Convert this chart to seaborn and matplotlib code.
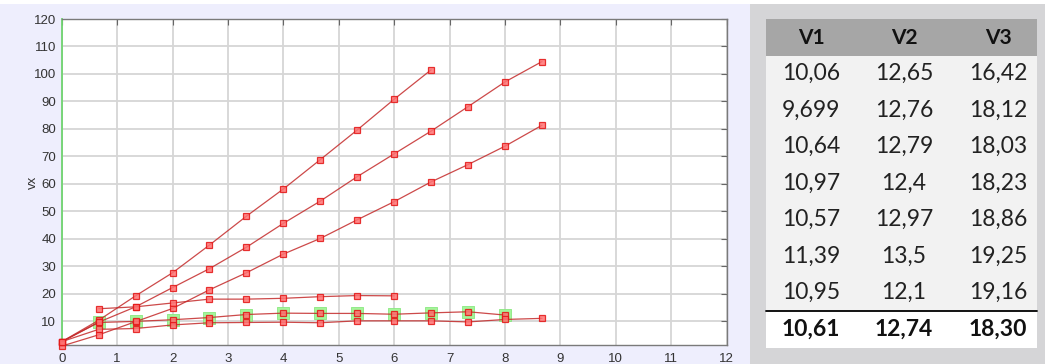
import matplotlib
matplotlib.use("Agg")
import matplotlib.pyplot as plt
from matplotlib.patches import Rectangle
import numpy as np
import pandas as pd
import seaborn as sns

# time axis (steps of 2/3)
t = [0, 2/3, 4/3, 2, 8/3, 10/3, 4, 14/3, 16/3, 6, 20/3, 22/3, 8, 26/3]

# velocity traces
vx_a = [2.5, 10.3, 19.2, 27.6, 37.7, 48.2, 58.1, 68.8, 79.6, 90.8, 101.5]
vx_b = [2.5, 9.6, 15.2, 22.2, 29.1, 36.9, 45.6, 53.7, 62.6, 70.9, 79.2, 88.1, 97.1, 104.5]
vx_c = [0.9, 5.0, 9.8, 14.6, 21.4, 27.6, 34.4, 40.1, 46.9, 53.5, 60.7, 67.0, 73.7, 81.3]
vx_d = [14.5, 15.2, 16.6, 18.0, 18.0, 18.3, 18.9, 19.3, 19.2]          # starts at t = 2/3
vx_e = [2.5, 9.5, 9.9, 10.5, 11.3, 12.4, 12.9, 12.8, 12.8, 12.5, 13.0, 13.4, 12.2]
vx_f = [2.5, 7.0, 7.3, 8.6, 9.4, 9.5, 9.6, 9.4, 10.1, 10.1, 10.1, 9.7, 10.6, 11.0]

# table values
col_names = ["V1", "V2", "V3"]
v1 = [10.06, 9.699, 10.64, 10.97, 10.57, 11.39, 10.95]
v2 = [12.65, 12.76, 12.79, 12.4, 12.97, 13.5, 12.1]
v3 = [16.42, 18.12, 18.03, 18.23, 18.86, 19.25, 19.16]

x_ticks = list(range(0, 13))
y_ticks = list(range(10, 121, 10))

series = {
    "a": (t[:len(vx_a)], vx_a),
    "b": (t[:len(vx_b)], vx_b),
    "c": (t[:len(vx_c)], vx_c),
    "d": (t[1:1 + len(vx_d)], vx_d),
    "e": (t[:len(vx_e)], vx_e),
    "f": (t[:len(vx_f)], vx_f),
}
frames = [pd.DataFrame({"t": xs, "vx": ys, "run": k}) for k, (xs, ys) in series.items()]
df = pd.concat(frames, ignore_index=True)

sns.set_style("white")
plt.rcParams["font.family"] = ["Liberation Sans", "DejaVu Sans"]

W, H = 1045, 364
fig = plt.figure(figsize=(W / 100, H / 100), dpi=100)
fig.patch.set_facecolor("white")

# background panels
fig.add_artist(Rectangle((0, 0), 750 / W, 360 / H, transform=fig.transFigure,
                         facecolor="#eeeefd", edgecolor="none", zorder=0))
fig.add_artist(Rectangle((750 / W, 0), 295 / W, 360 / H, transform=fig.transFigure,
                         facecolor="#d5d5d7", edgecolor="none", zorder=0))

ax = fig.add_axes([61.7 / W, (H - 345) / H, 665 / W, 326 / H])
ax.set_facecolor("white")

# highlighted samples
hl = df[(df["run"] == "e") & (df["t"] > 0)]
sns.scatterplot(data=hl, x="t", y="vx", ax=ax, marker="s", s=70, color="#a4f59a",
                edgecolor="#8ae880", linewidth=0.6, zorder=2, legend=False, clip_on=False)

sns.lineplot(data=df, x="t", y="vx", units="run", estimator=None, sort=False, ax=ax,
             color="#c42a2a", linewidth=0.9, alpha=0.85, legend=False, zorder=3,
             marker="s", markersize=4.5, markerfacecolor="#ff7373",
             markeredgecolor="#e31414", markeredgewidth=0.9)
for ln in ax.lines:
    ln.set_clip_on(False)

ax.set_xlim(0, 12)
ax.set_ylim(1.3, 120)
ax.set_xticks(x_ticks)
ax.set_yticks(y_ticks)
ax.grid(True, color="#d6d6d6", linewidth=1.3)
ax.set_axisbelow(True)
ax.tick_params(direction="in", length=4, width=0.8, color="#666666",
               top=True, right=True, labelsize=9.5, labelcolor="#333333", pad=4)
ax.tick_params(axis="x", pad=6)
for side in ["top", "right", "bottom"]:
    ax.spines[side].set_color("#7a7a7a")
    ax.spines[side].set_linewidth(1.0)
ax.spines["left"].set_color("#6fd46f")
ax.spines["left"].set_linewidth(1.3)
ax.set_xlabel("")
ax.set_ylabel("vx", fontsize=9.5, color="#333333")
ax.yaxis.set_label_coords(-0.034, 0.5)

# summary table
tab = fig.add_axes([0, 0, 1, 1], facecolor="none")
tab.set_xlim(0, W)
tab.set_ylim(H, 0)
tab.axis("off")

left, right = 766, 1037
top, head_h, row_h = 19, 36.5, 36.5
col_x = [811, 904, 998]
tab.add_patch(Rectangle((left, top), right - left, head_h, facecolor="#a6a6a6", edgecolor="none"))
n = len(v1)
tab.add_patch(Rectangle((left, top + head_h), right - left, n * row_h,
                        facecolor="#f2f2f2", edgecolor="none"))
tot_y = top + head_h + n * row_h
tab.add_patch(Rectangle((left, tot_y), right - left, row_h, facecolor="white", edgecolor="none"))
tab.plot([left, right], [tot_y, tot_y], color="black", lw=1.3)

tfont = ["Lato", "DejaVu Sans"]
for cx, name in zip(col_x, col_names):
    tab.text(cx, top + head_h / 2 + 1, name, ha="center", va="center", fontsize=15,
             fontweight="bold", family=tfont, color="#111111")

def fmt(v):
    return f"{v:.4g}".replace(".", ",")

for i in range(n):
    yc = top + head_h + (i + 0.5) * row_h
    for cx, col in zip(col_x, [v1, v2, v3]):
        tab.text(cx, yc, fmt(col[i]), ha="center", va="center", fontsize=16.5,
                 family=tfont, color="#222222")

for cx, col in zip(col_x, [v1, v2, v3]):
    tab.text(cx, tot_y + row_h / 2, f"{np.mean(col):.2f}".replace(".", ","),
             ha="center", va="center", fontsize=16.5, fontweight="bold",
             family=tfont, color="#111111")

fig.savefig("out.png", dpi=100)
